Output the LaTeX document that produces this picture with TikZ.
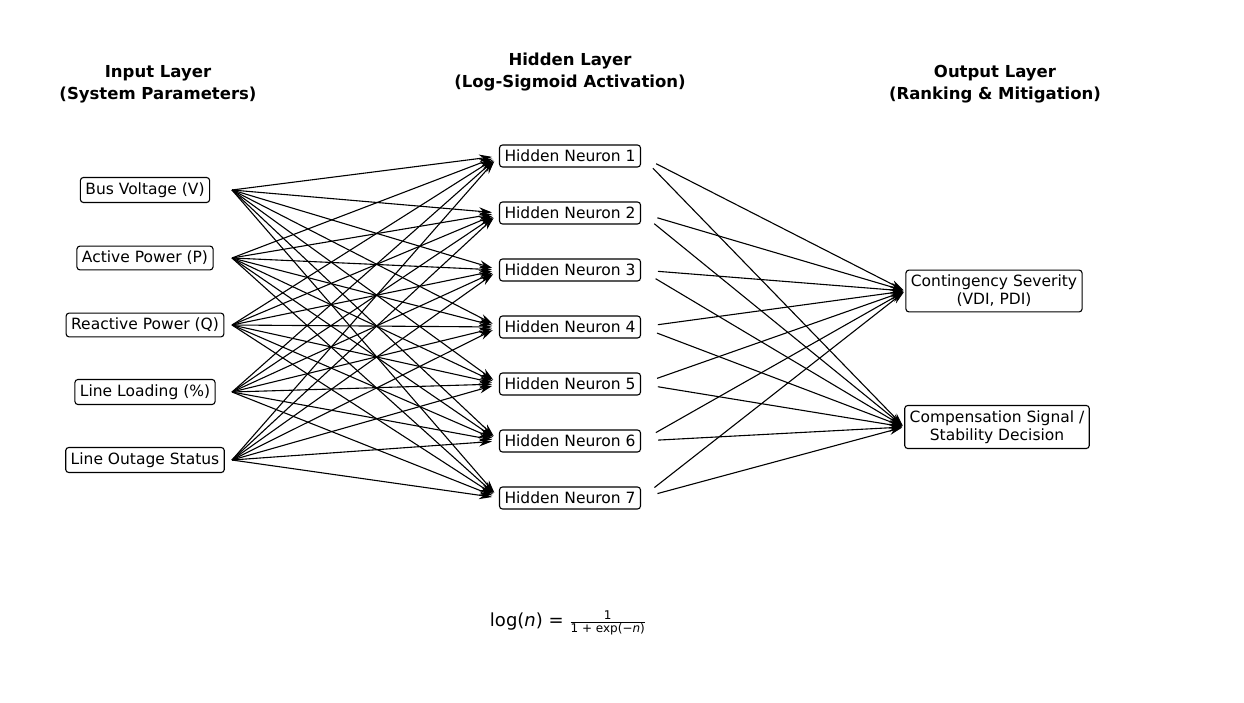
\documentclass[tikz,border=0pt]{standalone}
\usepackage{fontspec}
\setmainfont{DejaVu Sans}
\usetikzlibrary{arrows.meta, positioning}

\begin{document}
\begin{tikzpicture}[x=1pt, y=-1pt,
    unitbox/.style={draw, rounded corners=3pt, line width=1.1pt, inner xsep=5pt, inner ysep=5pt, fill=white, font=\fontsize{15.5}{18}\selectfont},
    layertitle/.style={align=center, font=\bfseries\fontsize{16.5}{22}\selectfont},
    wire/.style={-{Stealth[length=13pt,width=8pt]}, line width=1.1pt}]

    \useasboundingbox (0,0) rectangle (1244,703);

    % Layer titles
    \node[layertitle] (tin) at (158,84) {Input Layer\\(System Parameters)};
    \node[layertitle] (thid) at (570,72) {Hidden Layer\\(Log-Sigmoid Activation)};
    \node[layertitle] (tout) at (995,84) {Output Layer\\(Ranking \& Mitigation)};

    % Input layer
    \node[unitbox] (in1) at (145,190) {Bus Voltage (V)};
    \node[unitbox] (in2) at (145,258) {Active Power (P)};
    \node[unitbox] (in3) at (145,325) {Reactive Power (Q)};
    \node[unitbox] (in4) at (145,392) {Line Loading (\%)};
    \node[unitbox] (in5) at (145,460) {Line Outage Status};

    % Hidden layer
    \foreach \k in {1,...,7}
        \node[unitbox] (hid\k) at (570,99+57*\k) {Hidden Neuron \k};

    % Output layer
    \node[unitbox, align=center] (out1) at (994,291) {Contingency Severity\\(VDI, PDI)};
    \node[unitbox, align=center] (out2) at (997,427) {Compensation Signal /\\Stability Decision};

    % Input -> hidden
    \foreach \i in {1,...,5} {
        \coordinate (in\i-tail) at ([xshift=87pt]in\i.center);
        \foreach \k in {1,...,7}
            \draw[wire, shorten >=7pt] (in\i-tail) -- (hid\k.west);
    }

    % Hidden -> output
    \foreach \k in {1,...,7}
        \foreach \o in {1,2}
            \draw[wire, shorten <=17pt, shorten >=2pt] (hid\k.east) -- (out\o.west);

    % Activation function
    \node[font=\fontsize{18}{21}\selectfont] (actfn) at (568,623)
        {log(\textit{n}) = $\frac{\mbox{\fontsize{12}{14}\selectfont 1}}{\mbox{\fontsize{12}{14}\selectfont 1 + exp(−\textit{n})}}$};

\end{tikzpicture}
\end{document}
